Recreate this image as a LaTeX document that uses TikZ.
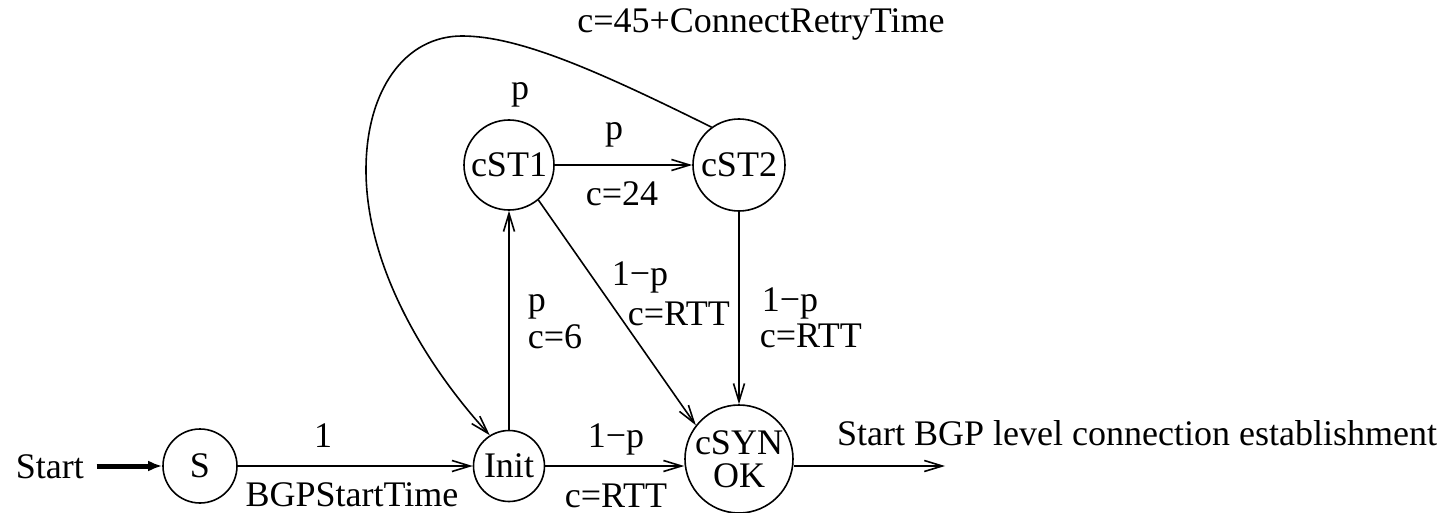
\documentclass[tikz,border=0pt]{standalone}
\usepackage{fontspec}
\setmainfont{Liberation Serif}
\usetikzlibrary{arrows.meta}
\begin{document}
\begin{tikzpicture}[x=1pt,y=-1pt,
  font=\fontsize{36}{30}\selectfont, line width=1.6pt,
  state/.style={circle,draw,inner sep=0pt},
  arr/.style={-{Straight Barb[length=18pt,width=11pt]}},
  lbl/.style={anchor=base,inner sep=0pt},
  lbll/.style={anchor=base west,inner sep=0pt}]
\useasboundingbox (0,0) rectangle (1450,513);
% states
\node[state,minimum size=74pt] (S) at (200,466) {S};
\node[state,minimum size=71pt] (Init) at (509,466) {Init};
\node[state,minimum size=108pt,align=center] (cSYN) at (739,459) {cSYN\\[3pt]OK};
\node[state,minimum size=90pt] (cST1) at (509,165) {cST1};
\node[state,minimum size=92pt] (cST2) at (739,165) {cST2};
% start
\node[anchor=base west,inner sep=0pt] (start) at (15,478) {Start};
\draw[line width=5pt,-{Latex[length=14pt,width=11pt]}] ([xshift=12pt]start.east |- S.west) -- (S.west);
% out
\coordinate (out) at (945,466);
\draw[arr] (out -| cSYN.east) -- (out);
\node[lbl] (outlbl) at (1137,445) {Start BGP level connection establishment};
% edges
\draw[arr] (S) -- (Init);
\node[lbl] (l1) at (323,447) {1};
\node[lbl] (l2) at (352,506) {BGPStartTime};
\draw[arr] (Init) -- (Init -| cSYN.west);
\node[lbl] (l3) at (616,447) {1−p};
\node[lbl] (l4) at (616,507) {c=RTT};
\draw[arr] (Init) -- (cST1);
\node[lbll] (l5) at (527,311) {p};
\node[lbll] (l6) at (527,348) {c=6};
\draw[arr] (cST1) -- (cST2);
\node[lbl] (l7) at (614,140) {p};
\node[lbl] (l8) at (622,205) {c=24};
\draw[arr] (cST1.-50) -- (cSYN.142);
\node[lbll] (l9) at (611,285) {1−p};
\node[lbll] (l10) at (627,325) {c=RTT};
\draw[arr] (cST2) -- (cSYN);
\node[lbll] (l11) at (761,311) {1−p};
\node[lbll] (l12) at (759,347) {c=RTT};
\draw[arr] (cST2.126) .. controls (600,72) and (520,36) .. (462,36)
  .. controls (405,36) and (366,90) .. (366,170)
  .. controls (366,270) and (430,370) .. (Init.122);
\node[lbl] (l13) at (520,100) {p};
\node[lbl] (l14) at (761,33) {c=45+ConnectRetryTime};
\end{tikzpicture}
\end{document}
